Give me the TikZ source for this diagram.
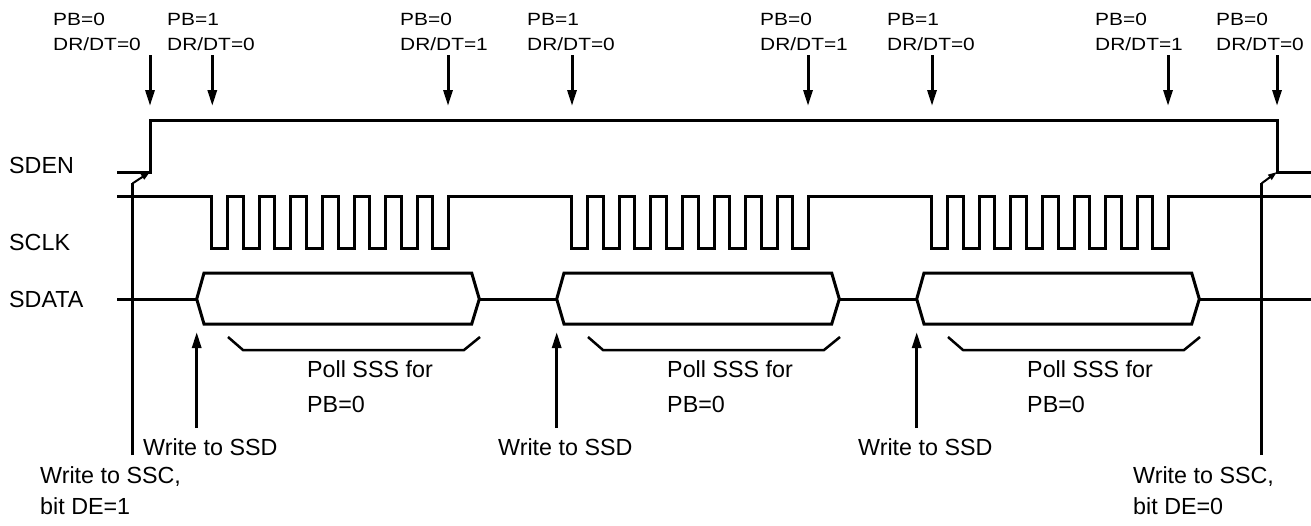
\documentclass[tikz,border=0pt]{standalone}
\usepackage{fontspec}
\usepackage{graphicx}
\setmainfont{Liberation Sans}
\usetikzlibrary{arrows.meta}
\newcommand\tlwide[1]{\scalebox{1.18}[1]{#1}}
\begin{document}
\begin{tikzpicture}[x=1pt,y=-1pt,
  sig/.style={line width=3pt, line join=miter},
  brk/.style={line width=2.5pt},
  lbl/.style={font=\fontsize{23.3}{28}\selectfont, inner sep=0pt, anchor=base west},
  toplbl/.style={font=\fontsize{17.7}{21}\selectfont, inner sep=0pt, anchor=base west},
  darrow/.style={line width=3pt, -{Triangle[length=16pt,width=9pt]}},
  sarrow/.style={line width=2pt, -{Triangle[length=9pt,width=6pt]}}]
\useasboundingbox (0,0) rectangle (1311,525);
\fill[white] (0,0) rectangle (1311,525);

% signal names
\node[lbl] (sden) at (9,173) {SDEN};
\node[lbl] (sclk) at (9,250) {SCLK};
\node[lbl] (sdata) at (9,307) {SDATA};

% SDEN
\draw[sig] (117,172) -- (150,172) -- (150,119) -- (150,120) -- (1277,120) -- (1277,172) -- (1311,172);

% SCLK
\draw[sig] (117,196)
  foreach \b in {0,360,720}{
    foreach \k in {0,...,7}{
      -- ({211.7+\b+31.6*\k},196) -- ({211.7+\b+31.6*\k},248)
      -- ({227.7+\b+31.6*\k},248) -- ({227.7+\b+31.6*\k},196)
    }
  } -- (1311,196);

% SDATA
\draw[sig] (117,299) -- (196.7,299);
\draw[sig] (479.3,299) -- (556.7,299);
\draw[sig] (839.3,299) -- (916.7,299);
\draw[sig] (1199.3,299) -- (1311,299);
\foreach \b in {0,360,720}{
  \draw[sig] ({196.7+\b},299) -- ({204+\b},273) -- ({471.7+\b},273) -- ({479.3+\b},299)
    -- ({471.7+\b},324) -- ({204+\b},324) -- cycle;
  \draw[brk] ({228+\b},337) -- ({243+\b},350) -- ({464+\b},350) -- ({480+\b},337);
}

% Poll labels
\foreach \b [count=\i] in {0,360,720}{
  \node[lbl] (poll\i a) at ({307+\b},377) {Poll SSS for};
  \node[lbl] (poll\i b) at ({307+\b},412) {PB=0};
}

% top labels and arrows
\foreach \x/\lx/\pb/\dr [count=\i] in {150/53/0/0, 212.3/167/1/0, 448/400/0/1, 572/527/1/0, 808/760/0/1, 932/887/1/0, 1168/1095/0/1, 1277/1216/0/0}{
  \node[toplbl] (pb\i) at (\lx,25) {\tlwide{PB=\pb}};
  \node[toplbl] (dr\i) at (\lx,50) {\tlwide{DR/DT=\dr}};
  \coordinate (ta\i) at (\x,55);
  \coordinate (tb\i) at (\x,106);
  \draw[darrow] (ta\i) -- (tb\i);
}

% Write to SSD arrows
\foreach \x/\lx [count=\i] in {196.7/143, 556.7/498, 916.7/858}{
  \coordinate (wa\i) at (\x,428);
  \coordinate (wb\i) at (\x,332);
  \draw[darrow] (wa\i) -- (wb\i);
  \node[lbl] (wssd\i) at (\lx,455) {Write to SSD};
}

% Write to SSC lines
\coordinate (l1) at (132.7,455);
\coordinate (l2) at (132.7,183.3);
\coordinate (l3) at (150,172);
\draw[sig] (l1) -- (l2);
\draw[sarrow] (l2) -- (l3);
\coordinate (r1) at (1261.7,455);
\coordinate (r2) at (1261.7,183.3);
\coordinate (r3) at (1277,172);
\draw[sig] (r1) -- (r2);
\draw[sarrow] (r2) -- (r3);

\node[lbl] (sscl1) at (40,483) {Write to SSC,};
\node[lbl] (sscl2) at (40,514) {bit DE=1};
\node[lbl] (sscr1) at (1133,483) {Write to SSC,};
\node[lbl] (sscr2) at (1133,514) {bit DE=0};
\end{tikzpicture}
\end{document}
